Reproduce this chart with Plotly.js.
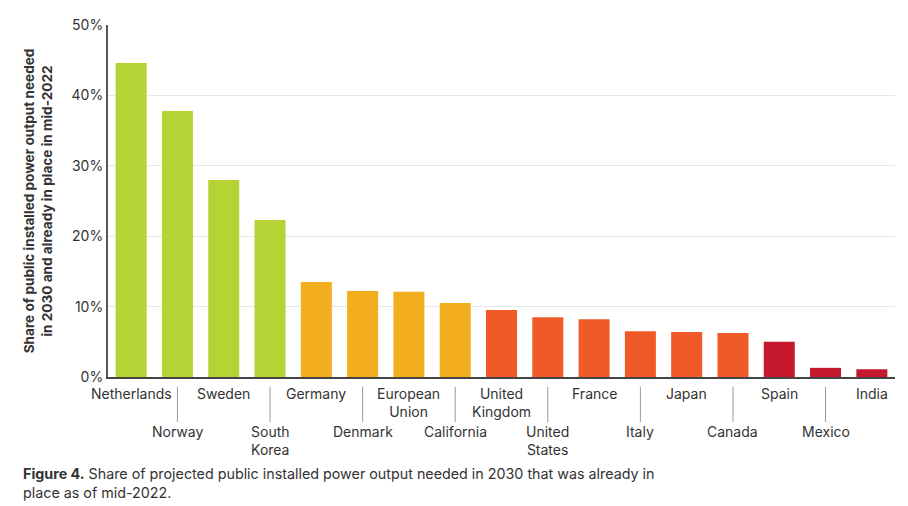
<!DOCTYPE html>
<html>
<head>
<meta charset="utf-8">
<script src="https://cdn.plot.ly/plotly-3.0.1.min.js"></script>
<style>body{margin:0;background:#fff}#chart{width:908px;height:506px}</style>
</head>
<body>
<div id="chart"></div>
<script>
var categories = ["Netherlands","Norway","Sweden","South Korea","Germany","Denmark","European Union","California","United Kingdom","United States","France","Italy","Japan","Canada","Spain","Mexico","India"];
var labels = ["Netherlands","Norway","Sweden","South<br>Korea","Germany","Denmark","European<br>Union","California","United<br>Kingdom","United<br>States","France","Italy","Japan","Canada","Spain","Mexico","India"];
var values = [44.6,37.8,28.0,22.3,13.5,12.2,12.1,10.5,9.5,8.5,8.2,6.5,6.4,6.25,5.0,1.3,1.1];
var groups = ["g","g","g","g","o","o","o","o","r","r","r","r","r","r","c","c","c"];
var palette = {g:"#B5D334", o:"#F2AE1E", r:"#F05A28", c:"#C4182F"};
var yTicks = [0,10,20,30,40,50];
var yTickText = ["0%","10%","20%","30%","40%","50%"];

var font = "Inter, 'Open Sans', sans-serif";
var annotations = [], shapes = [];
categories.forEach(function(c, i){
  var lower = i % 2 === 1;
  annotations.push({x:c, xref:'x', yref:'paper', y: lower ? -0.126 : -0.018, yanchor:'top', xanchor:'center',
    text: labels[i], showarrow:false, align:'center', font:{family:font, size:14, color:'#333'}});
  if (lower) shapes.push({type:'line', xref:'x', yref:'paper', x0:c, x1:c, y0:-0.028, y1:-0.128, line:{color:'#999', width:1}});
});
annotations.push({xref:'paper', yref:'paper', x:-0.111, y:-0.245, xanchor:'left', yanchor:'top', align:'left', showarrow:false,
  text:"<b>Figure 4.</b> Share of projected public installed power output needed in 2030 that was already in<br>place as of mid-2022.",
  font:{family:font, size:14.3, color:'#333'}});

Plotly.newPlot('chart', [{
  type:'bar', x:categories, y:values,
  marker:{color: groups.map(function(g){return palette[g];})},
  hoverinfo:'x+y'
}], {
  width:908, height:506,
  margin:{l:108, r:13, t:25, b:129},
  bargap:0.33,
  showlegend:false,
  paper_bgcolor:'#fff', plot_bgcolor:'#fff',
  xaxis:{range:[-0.5,16.5], autorange:false, automargin:false, showticklabels:false, ticks:'', showline:true, linecolor:'#444', linewidth:2, showgrid:false, zeroline:false},
  yaxis:{range:[0,50], automargin:false, tickvals:yTicks, ticktext:yTickText, showline:true, linecolor:'#555', linewidth:2,
    gridcolor:'#e8e8e8', zeroline:false, ticks:'', tickfont:{family:font, size:14, color:'#333'},
    title:{text:"<b>Share of public installed power output needed<br>in 2030 and already in place in mid-2022</b>", font:{family:font, size:13.6, color:'#333'}, standoff:16}},
  annotations:annotations,
  shapes:shapes
}, {displayModeBar:false});
</script>
</body>
</html>
